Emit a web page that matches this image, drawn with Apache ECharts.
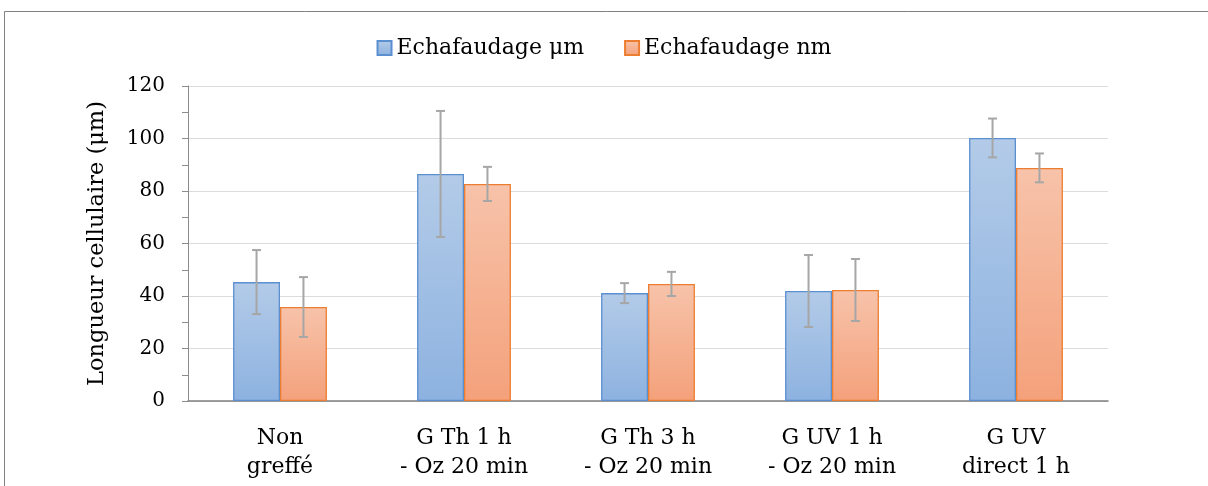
<!DOCTYPE html>
<html><head><meta charset="utf-8">
<script src="https://cdn.jsdelivr.net/npm/echarts@6/dist/echarts.min.js"></script>
<style>html,body{margin:0;padding:0;background:#fff}#c{width:1208px;height:486px}</style>
</head><body><div id="c"></div>
<script>
const categories = ['Non\ngreffé', 'G Th 1 h\n- Oz 20 min', 'G Th 3 h\n- Oz 20 min', 'G UV 1 h\n- Oz 20 min', 'G UV\ndirect 1 h'];
const seriesNames = ['Echafaudage μm', 'Echafaudage nm'];
const valuesUm = [45.3, 86.5, 41.1, 41.9, 100.2];
const errUm = [12.2, 24.0, 3.8, 13.7, 7.4];
const valuesNm = [35.8, 82.7, 44.6, 42.3, 88.8];
const errNm = [11.4, 6.5, 4.6, 11.8, 5.5];
const yTicks = [0, 20, 40, 60, 80, 100, 120];

const FONT = '"DejaVu Serif", "Liberation Serif", serif';
const BARW = 0.255;

function errData(vals, errs) {
  return vals.map((v, i) => [i, v - errs[i], v + errs[i]]);
}
function errRender(side) {
  return function (params, api) {
    const idx = api.value(0);
    const lo = api.coord([idx, api.value(1)]);
    const hi = api.coord([idx, api.value(2)]);
    const band = api.size([1, 0])[0];
    const x = lo[0] + side * band * BARW / 2;
    const cap = 4.5;
    const style = { stroke: '#a6a6a6', lineWidth: 2 };
    return {
      type: 'group',
      children: [
        { type: 'line', shape: { x1: x, y1: lo[1], x2: x, y2: hi[1] }, style },
        { type: 'line', shape: { x1: x - cap, y1: lo[1], x2: x + cap, y2: lo[1] }, style },
        { type: 'line', shape: { x1: x - cap, y1: hi[1], x2: x + cap, y2: hi[1] }, style }
      ]
    };
  };
}

const chart = echarts.init(document.getElementById('c'));
chart.setOption({
  animation: false,
  backgroundColor: '#fff',
  graphic: [{
    type: 'rect', shape: { x: 4.5, y: 11.5, width: 1220, height: 520 },
    style: { fill: 'none', stroke: '#808080', lineWidth: 1 }, silent: true
  }],
  legend: {
    top: 32, left: 'center', itemWidth: 14, itemHeight: 14, itemGap: 40,
    icon: 'rect',
    textStyle: { fontFamily: FONT, fontSize: 22, color: '#000' },
    data: seriesNames
  },
  grid: { left: 188, right: 100, top: 86, bottom: 85 },
  xAxis: {
    type: 'category', data: categories,
    axisLine: { lineStyle: { color: '#808080', width: 1.5 } },
    axisTick: { show: false },
    axisLabel: { fontFamily: FONT, fontSize: 22, color: '#000', margin: 23, lineHeight: 29, interval: 0 }
  },
  yAxis: {
    type: 'value', min: 0, max: 120, interval: 20,
    name: 'Longueur cellulaire (μm)', nameLocation: 'middle', nameGap: 79,
    nameTextStyle: { fontFamily: FONT, fontSize: 22.5, color: '#000' },
    axisLine: { show: true, lineStyle: { color: '#8c8c8c' } },
    axisTick: { show: true, length: 6, lineStyle: { color: '#8c8c8c' } },
    minorTick: { show: true, splitNumber: 2, length: 6, lineStyle: { color: '#8c8c8c' } },
    axisLabel: { fontFamily: FONT, fontSize: 20, color: '#000', margin: 23,
      formatter: v => yTicks.includes(v) ? String(v) : '' },
    splitLine: { lineStyle: { color: '#dcdcdc', width: 1 } }
  },
  series: [
    {
      name: seriesNames[0], type: 'bar', data: valuesUm, barWidth: (BARW * 100) + '%', barGap: '0%',
      itemStyle: {
        color: new echarts.graphic.LinearGradient(0, 0, 0, 1, [
          { offset: 0, color: '#b3cbe8' }, { offset: 1, color: '#8db2e0' }]),
        borderColor: '#5b8fd0', borderWidth: 1.3
      }
    },
    {
      name: seriesNames[1], type: 'bar', data: valuesNm, barWidth: (BARW * 100) + '%', barGap: '0%',
      itemStyle: {
        color: new echarts.graphic.LinearGradient(0, 0, 0, 1, [
          { offset: 0, color: '#f7c3aa' }, { offset: 1, color: '#f4a17b' }]),
        borderColor: '#ed7d31', borderWidth: 1.3
      }
    },
    { type: 'custom', renderItem: errRender(-1), data: errData(valuesUm, errUm), z: 10, silent: true },
    { type: 'custom', renderItem: errRender(1), data: errData(valuesNm, errNm), z: 10, silent: true }
  ]
});
</script></body></html>
